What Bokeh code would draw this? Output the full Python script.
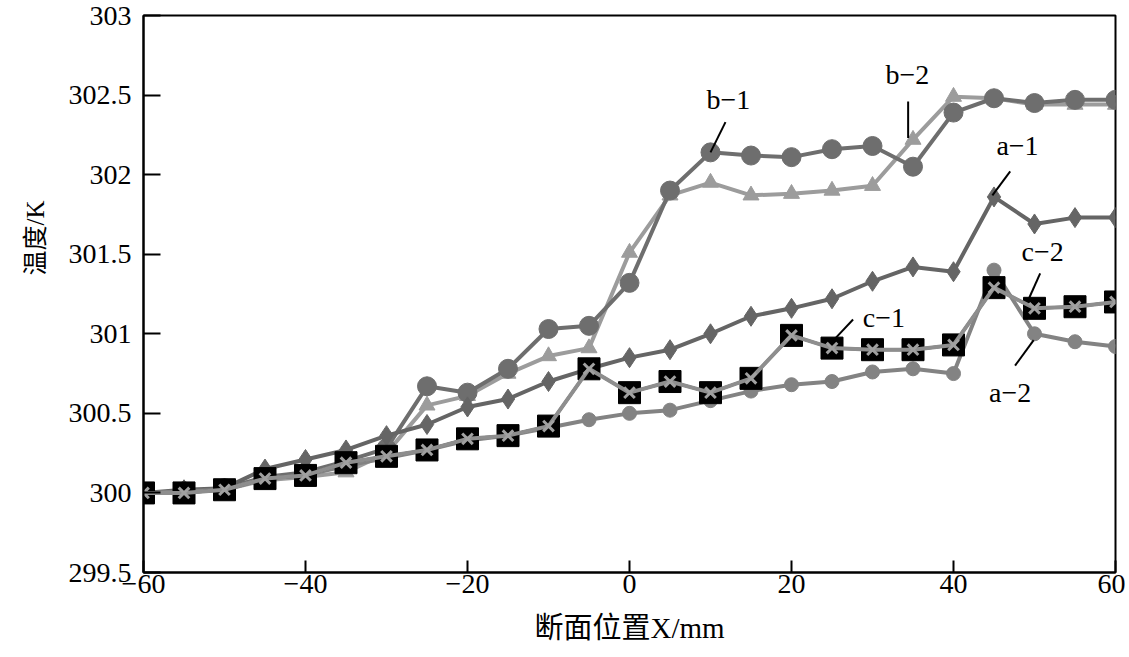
from bokeh.plotting import figure
from bokeh.models import FixedTicker, Range1d, Label, Title
from bokeh.embed import file_html
from bokeh.resources import INLINE

# ---- data ----
x_pos = [-60, -55, -50, -45, -40, -35, -30, -25, -20, -15, -10, -5, 0,
         5, 10, 15, 20, 25, 30, 35, 40, 45, 50, 55, 60]
b1 = [300.00, 300.01, 300.03, 300.10, 300.13, 300.20, 300.28, 300.67, 300.63, 300.78,
      301.03, 301.05, 301.32, 301.90, 302.14, 302.12, 302.11, 302.16, 302.18, 302.05,
      302.39, 302.48, 302.45, 302.47, 302.47]
b2 = [300.00, 300.01, 300.02, 300.08, 300.10, 300.13, 300.25, 300.55, 300.61, 300.75,
      300.86, 300.91, 301.51, 301.87, 301.95, 301.87, 301.88, 301.90, 301.93, 302.22,
      302.49, 302.48, 302.44, 302.44, 302.44]
a1 = [300.00, 300.02, 300.03, 300.15, 300.21, 300.27, 300.36, 300.43, 300.54, 300.59,
      300.70, 300.78, 300.85, 300.90, 301.00, 301.11, 301.16, 301.22, 301.33, 301.42,
      301.39, 301.86, 301.69, 301.73, 301.73]
a2 = [300.00, 300.01, 300.02, 300.09, 300.11, 300.17, 300.22, 300.27, 300.33, 300.36,
      300.41, 300.46, 300.50, 300.52, 300.58, 300.64, 300.68, 300.70, 300.76, 300.78,
      300.75, 301.40, 301.00, 300.95, 300.92]
c1 = [300.00, 300.00, 300.02, 300.09, 300.11, 300.19, 300.23, 300.27, 300.34, 300.36,
      300.42, 300.78, 300.63, 300.70, 300.63, 300.72, 300.99, 300.91, 300.90, 300.90,
      300.93, 301.29, 301.16, 301.17, 301.20]
c2 = list(c1)

x_ticks = [-60, -40, -20, 0, 20, 40, 60]
x_tick_labels = ["\u221260", "\u221240", "\u221220", "0", "20", "40", "60"]
y_ticks = [299.5, 300, 300.5, 301, 301.5, 302, 302.5, 303]
y_tick_labels = ["299.5", "300", "300.5", "301", "301.5", "302", "302.5", "303"]

# annotation labels: text, text x, text y, leader x0, y0, x1, y1
ann_text = ["b\u22121", "b\u22122", "a\u22121", "c\u22122", "c\u22121", "a\u22122"]
ann_tx = [12.2, 34.3, 47.9, 51.0, 31.4, 47.0]
ann_ty = [302.47, 302.63, 302.18, 301.52, 301.10, 300.63]
ann_x0 = [11.85, 34.4, 47.0, 50.7, 27.6, 47.6]
ann_y0 = [302.33, 302.46, 302.02, 301.38, 301.09, 300.80]
ann_x1 = [10.0, 34.4, 44.8, 49.3, 25.2, 49.9]
ann_y1 = [302.14, 302.23, 301.87, 301.22, 300.96, 300.96]

SERIF = "'Liberation Serif', 'Times New Roman', serif"
MIXED = "'Liberation Serif', 'Noto Sans CJK SC', serif"

p = figure(width=1125, height=653, output_backend="svg", toolbar_location=None,
           x_range=Range1d(-60, 60), y_range=Range1d(299.5, 303),
           min_border_left=143, min_border_right=10, min_border_top=15,
           min_border_bottom=81)
p.grid.visible = False
p.outline_line_color = "black"
p.outline_line_width = 2
p.background_fill_color = "white"
p.border_fill_color = "white"

# axes
p.xaxis.ticker = FixedTicker(ticks=x_ticks)
p.xaxis.major_label_overrides = {t: l for t, l in zip(x_ticks, x_tick_labels)}
p.yaxis.ticker = FixedTicker(ticks=y_ticks)
p.yaxis.major_label_overrides = {t: l for t, l in zip(y_ticks, y_tick_labels)}
for ax in (p.xaxis[0], p.yaxis[0]):
    ax.axis_line_width = 2
    ax.axis_line_color = "black"
    ax.major_tick_line_color = "black"
    ax.major_tick_line_width = 2
    ax.major_tick_out = 0
    ax.minor_tick_line_color = None
    ax.major_label_text_font = SERIF
    ax.major_label_text_font_size = "28px"
    ax.major_label_text_color = "black"
    ax.axis_label_text_font = MIXED
    ax.axis_label_text_font_style = "normal"
    ax.axis_label_text_color = "black"
p.xaxis.major_tick_in = 12
p.yaxis.major_tick_in = 17
p.xaxis.major_label_standoff = 2
p.yaxis.major_label_standoff = 12
p.xaxis.axis_label = "断面位置X/mm"
p.xaxis.axis_label_text_font_size = "29px"
p.xaxis.axis_label_standoff = 16

# y-axis title, placed towards the upper part of the axis like the reference
p.add_layout(Title(text="温度/K", align="right", offset=185, standoff=34,
                   text_font=MIXED, text_font_size="25px", text_font_style="normal",
                   text_color="black"), "left")

# series
p.line(x_pos, b2, line_color="#9c9c9c", line_width=4)
p.scatter(x_pos, b2, marker="triangle", size=16, fill_color="#9c9c9c", line_color="#9c9c9c")

p.line(x_pos, b1, line_color="#6e6e6e", line_width=4)
p.scatter(x_pos, b1, marker="circle", size=19, fill_color="#6e6e6e", line_color="#6e6e6e")

p.line(x_pos, a1, line_color="#656565", line_width=4)
p.scatter(x_pos, a1, marker="diamond", size=20, fill_color="#656565", line_color="#656565")

p.line(x_pos, a2, line_color="#838383", line_width=4)
p.scatter(x_pos, a2, marker="circle", size=14, fill_color="#838383", line_color="#838383")

p.line(x_pos, c1, line_color="#111111", line_width=3)
p.scatter(x_pos, c1, marker="square", size=22, fill_color="black", line_color="black")

p.line(x_pos, c2, line_color="#8e8e8e", line_width=4)
p.scatter(x_pos, c2, marker="x", size=15, line_color="#a0a0a0", line_width=3)

# annotations
p.segment(x0=ann_x0, y0=ann_y0, x1=ann_x1, y1=ann_y1, line_color="black", line_width=2)
for t, tx, ty in zip(ann_text, ann_tx, ann_ty):
    p.add_layout(Label(x=tx, y=ty, text=t, text_font=SERIF, text_font_size="28px",
                       text_align="center", text_baseline="middle", text_color="black"))

open("out.html", "w").write(file_html(p, INLINE))
